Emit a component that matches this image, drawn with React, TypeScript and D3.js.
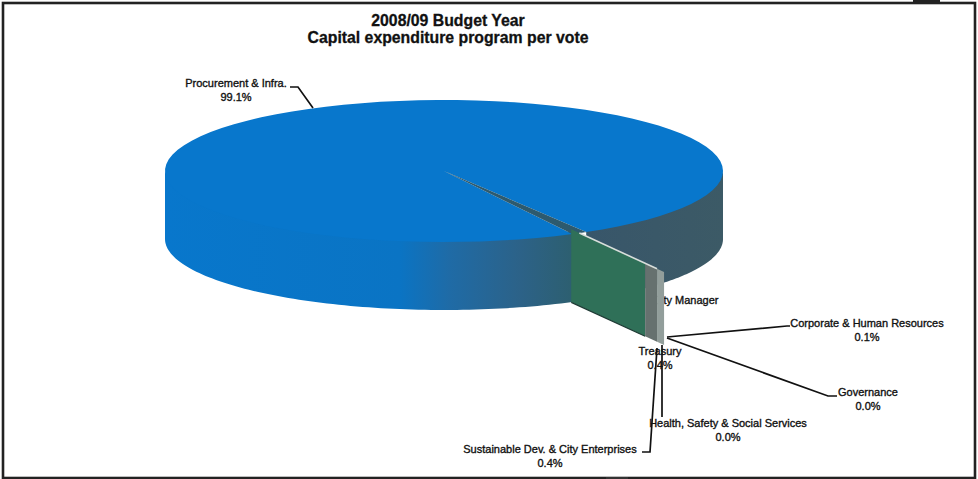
import React from "react";
import * as d3 from "d3";

// Capital expenditure by vote, as shares of the total programme.
const voteNames = [
  "Procurement & Infra.",
  "Corporate & Human Resources",
  "Governance",
  "Health, Safety & Social Services",
  "Sustainable Dev. & City Enterprises",
  "Treasury",
  "City Manager",
];
const voteShares = [99.1, 0.1, 0.0, 0.0, 0.4, 0.4, 0.0];
const titleLines = ["2008/09 Budget Year", "Capital expenditure program per vote"];

// Layout of the pseudo-3D pie.
const W = 978;
const H = 479;
const CX = 444;
const CY = 171;
const RX = 279;
const RY = 71;
const DEPTH = 68;
const FACE_DROP = 73;
const START_DEG = 62.6;
const RIM_OVERLAP = 3;

const labelSpots: { x: number; y: number }[] = [
  { x: 236, y: 87 },
  { x: 867, y: 327 },
  { x: 868, y: 396 },
  { x: 728, y: 427 },
  { x: 550, y: 453 },
  { x: 660, y: 355 },
];
const leaders: [number, number][][] = [
  [[290, 87], [298, 87], [313, 108]],
  [[667, 337], [787, 326], [790, 326]],
  [[667, 338], [828, 396], [837, 396]],
  [[662, 345], [662, 417]],
  [[657, 348], [650, 452], [642, 452]],
];

const pieGen = d3
  .pie<number>()
  .sort(null)
  .value((d) => d)
  .startAngle(((START_DEG + 90) * Math.PI) / 180)
  .endAngle(((START_DEG + 90 + 360) * Math.PI) / 180);
const slices = pieGen(voteShares);
const toScreen = (a: number) => a - Math.PI / 2;

const project = (theta: number, r: number, drop = 0): [number, number] => [
  CX + RX * r * Math.cos(theta),
  CY + RY * r * Math.sin(theta) + drop,
];
const line = d3.line<[number, number]>();

const arcPoints = (a0: number, a1: number, r = 1, drop = 0) =>
  d3.range(0, 91).map((i) => project(a0 + ((a1 - a0) * i) / 90, r, drop));

const mainStart = toScreen(slices[0].startAngle);
const mainEnd = toScreen(slices[0].endAngle);
const cutAngle = (mainEnd - 2 * Math.PI + mainStart) / 2;

const topPath =
  line([[CX, CY] as [number, number], ...arcPoints(mainStart, mainEnd)])! + "Z";

// Walls start slightly above the rim so no seam shows under the top surface.
const wallPath = (a0: number, a1: number) =>
  line([...arcPoints(a0, a1, 1, -RIM_OVERLAP), ...arcPoints(a1, a0, 1, DEPTH)])! + "Z";
const frontWall = wallPath(mainStart, Math.PI);
const rightWall = wallPath(2 * Math.PI, mainEnd);

// The exposed cut face: green body plus narrow strips for the tiny slices.
const faceStops = [0.94, 1.486, 1.574, 1.626];
const highlightFrom = 1.0;
const faceColors = ["#2f7058", "#66716f", "#929e9b"];
const faceQuad = (r0: number, r1: number) =>
  line([
    project(cutAngle, r0),
    project(cutAngle, r1),
    project(cutAngle, r1, FACE_DROP),
    project(cutAngle, r0, FACE_DROP),
  ])! + "Z";

const pct = d3.format(".1%");

const labelStyle: React.CSSProperties = {
  fontFamily: "'Liberation Sans', Arial, sans-serif",
  fontSize: 11,
  fill: "#111",
  stroke: "#111",
  strokeWidth: 0.35,
};

export default function App() {
  const labelled = voteNames.slice(0, 6);
  return (
    <svg
      width={W}
      height={H}
      viewBox={`0 0 ${W} ${H}`}
      style={{ position: "absolute", left: 0, top: 0, background: "#fff" }}
    >
      <defs>
        <linearGradient
          id="wallShade"
          gradientUnits="userSpaceOnUse"
          x1={CX - RX}
          x2={CX + RX}
          y1={0}
          y2={0}
        >
          <stop offset="0" stopColor="#0877cc" />
          <stop offset="0.42" stopColor="#0a74c4" />
          <stop offset="0.51" stopColor="#1f6ba6" />
          <stop offset="0.636" stopColor="#2c6288" />
          <stop offset="0.73" stopColor="#2d5f70" />
          <stop offset="0.76" stopColor="#38566a" />
          <stop offset="1" stopColor="#3c5a66" />
        </linearGradient>
      </defs>

      <rect x={3} y={3} width={972} height={475} fill="#fff" stroke="#222" strokeWidth={2.6} />
      <rect x={913} y={0} width={27} height={3} fill="#222" />
      <rect x={606} y={477} width={22} height={2} fill="#333" />

      {titleLines.map((t, i) => (
        <text
          key={t}
          x={448}
          y={26 + i * 17}
          textAnchor="middle"
          fontFamily="'Liberation Sans', Arial, sans-serif"
          fontWeight="bold"
          fontSize={15.8}
          fill="#111"
          stroke="#111"
          strokeWidth={0.3}
        >
          {t}
        </text>
      ))}

      {/* City Manager sits behind the cut face, so its start is covered */}
      <text x={653} y={304} style={labelStyle}>
        {voteNames[6]}
      </text>

      <path d={frontWall} fill="url(#wallShade)" />
      <path d={rightWall} fill="url(#wallShade)" />
      <path d={topPath} fill="#0877cc" />
      <path
        d={line([[CX, CY], ...arcPoints(mainEnd - 2 * Math.PI, mainStart)])! + "Z"}
        fill="#2d5a6e"
      />

      {faceColors.map((c, i) => (
        <path key={c} d={faceQuad(faceStops[i], faceStops[i + 1])} fill={c} />
      ))}
      <path
        d={line([
          project(cutAngle, highlightFrom),
          project(cutAngle, faceStops[2]),
        ])!}
        stroke="#d8dedb"
        strokeWidth={1.6}
        fill="none"
      />
      <path
        d={line([
          project(cutAngle, faceStops[0], FACE_DROP),
          project(cutAngle, faceStops[1], FACE_DROP),
        ])!}
        stroke="#1e3a34"
        strokeWidth={1.2}
        fill="none"
      />

      {leaders.map((pts, i) => (
        <path key={i} d={line(pts)!} fill="none" stroke="#111" strokeWidth={1.7} />
      ))}

      {labelled.map((name, i) => (
        <g key={name} textAnchor="middle" style={labelStyle}>
          <text x={labelSpots[i].x} y={labelSpots[i].y}>
            {name}
          </text>
          <text x={labelSpots[i].x} y={labelSpots[i].y + 13.5}>
            {pct(voteShares[i] / 100)}
          </text>
        </g>
      ))}
    </svg>
  );
}
